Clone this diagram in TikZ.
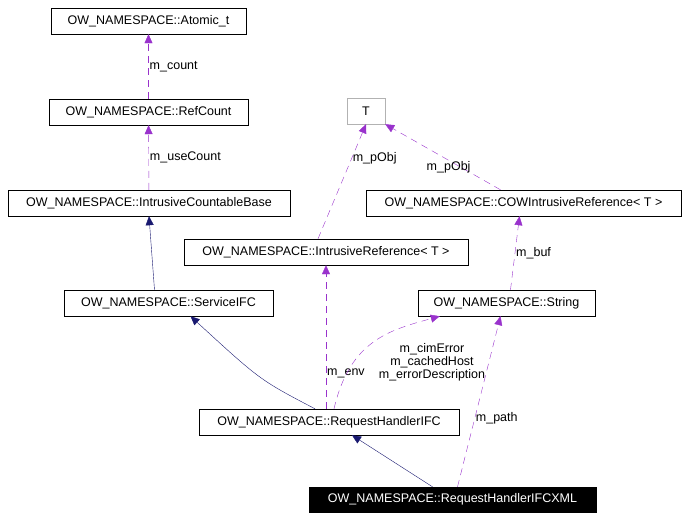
\documentclass[tikz,border=0pt]{standalone}
\usepackage{fontspec}
\setmainfont{Liberation Sans}
\usetikzlibrary{arrows.meta,calc}
\definecolor{orchid}{RGB}{153,50,204}
\definecolor{navyline}{RGB}{25,25,112}
\tikzset{cls/.style={draw,minimum height=26pt,inner sep=0pt,font=\fontsize{12.5}{14}\selectfont},
  uses/.style={dash pattern=on 7pt off 5pt,draw=orchid,-{Triangle[length=9pt,width=8pt]}},
  inh/.style={draw=navyline,-{Triangle[length=9pt,width=8pt]}},
  lbl/.style={font=\fontsize{12.5}{13}\selectfont,align=center,inner sep=1pt}}
\begin{document}
\begin{tikzpicture}[x=1pt,y=-1pt]
\useasboundingbox (0,0) rectangle (688,520);

%classes
\node [cls,minimum width=195pt] (atomic) at (148.5,21) {OW\_NAMESPACE::Atomic\_t};
\node [cls,minimum width=199pt] (refcount) at (148.5,112) {OW\_NAMESPACE::RefCount};
\node [cls,minimum width=282pt] (icb) at (149,203) {OW\_NAMESPACE::IntrusiveCountableBase};
\node [cls,draw=gray!60,minimum width=38pt] (t) at (366,111) {T};
\node [cls,minimum width=315pt] (cow) at (523.5,203) {OW\_NAMESPACE::COWIntrusiveReference\textless{} T \textgreater};
\node [cls,minimum width=284pt] (iref) at (326,252) {OW\_NAMESPACE::IntrusiveReference\textless{} T \textgreater};
\node [cls,minimum width=209pt] (service) at (168.5,303) {OW\_NAMESPACE::ServiceIFC};
\node [cls,minimum width=177pt] (string) at (506.5,303) {OW\_NAMESPACE::String};
\node [cls,minimum width=260pt] (rh) at (329,422) {OW\_NAMESPACE::RequestHandlerIFC};
\node [cls,fill=black,text=white,minimum width=287pt,minimum height=25pt] (rhxml) at (452.5,499.5) {OW\_NAMESPACE::RequestHandlerIFCXML};

%inheritance
\draw [inh] ($(service.north)+(-14,0)$) -- (icb.south);
\draw [inh] ($(rh.north)+(-14,0)$) .. controls (260,380) .. ($(service.south)+(22,0)$);
\draw [inh] ($(rhxml.north)+(-20,0)$) -- ($(rh.south)+(23,0)$);

%members
\draw [uses] (refcount) -- node [lbl,right] {m\_count} (atomic);
\draw [uses] (icb) -- node [lbl,right] {m\_useCount} (refcount);
\draw [uses] ($(iref.north)+(-8,0)$) -- node [lbl,right,pos=0.7] {m\_pObj} (t.south);
\draw [uses] ($(cow.north)+(-23,0)$) -- node [lbl,pos=0.45,below] {m\_pObj} (t.south east);
\draw [uses] ($(string.north)+(4,0)$) -- node [lbl,right] {m\_buf} ($(cow.south)+(-4,0)$);
\draw [uses] ($(rh.north)+(-3,0)$) -- node [lbl,right,pos=0.25] {m\_env} (iref.south);
\draw [uses] ($(rh.north)+(5,0)$) .. controls (350,340) and (390,330) .. ($(string.south west)+(22,0)$);
\node [lbl] (memlbl) at (432,362) {m\_cimError\\m\_cachedHost\\m\_errorDescription};
\draw [uses] ($(rhxml.north)+(5,0)$) -- node [lbl,right,pos=0.4] {m\_path} ($(string.south)+(-6,0)$);
\end{tikzpicture}
\end{document}
